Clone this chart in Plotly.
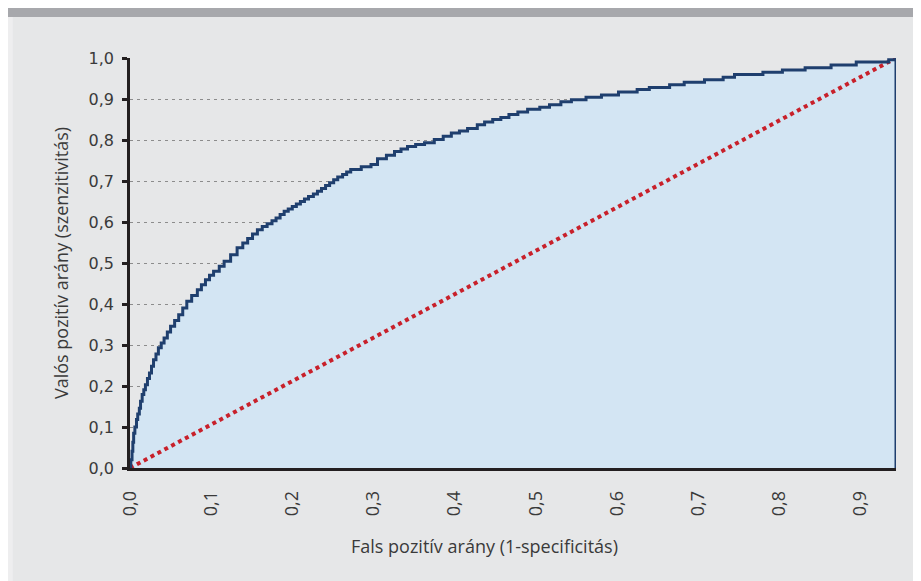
#!/usr/bin/env python3
"""ROC curve: valós pozitív arány vs fals pozitív arány."""

import plotly.graph_objects as go

# ROC curve (step points)
FPR = [0, 0.001, 0.0025, 0.0035, 0.0045, 0.006, 0.008, 0.0095, 0.0115, 0.013,
       0.015, 0.017, 0.019, 0.0215, 0.024, 0.0265, 0.029, 0.032, 0.035, 0.0385,
       0.042, 0.046, 0.05, 0.055, 0.06, 0.065, 0.07, 0.076, 0.083, 0.088,
       0.093, 0.098, 0.103, 0.11, 0.116, 0.124, 0.132, 0.139, 0.145, 0.151,
       0.157, 0.163, 0.169, 0.175, 0.18, 0.185, 0.19, 0.195, 0.2, 0.205,
       0.21, 0.215, 0.22, 0.226, 0.231, 0.236, 0.241, 0.246, 0.251, 0.256,
       0.262, 0.267, 0.272, 0.285, 0.297, 0.305, 0.316, 0.326, 0.334, 0.342,
       0.352, 0.363, 0.375, 0.386, 0.396, 0.406, 0.416, 0.428, 0.437, 0.447,
       0.457, 0.467, 0.478, 0.49, 0.505, 0.517, 0.531, 0.544, 0.562, 0.581,
       0.602, 0.625, 0.64, 0.665, 0.683, 0.708, 0.731, 0.745, 0.78, 0.804,
       0.832, 0.864, 0.895, 0.935, 0.944, 0.944]
TPR = [0, 0.02, 0.041, 0.063, 0.085, 0.1, 0.118, 0.132, 0.146, 0.163,
       0.179, 0.191, 0.203, 0.218, 0.232, 0.248, 0.264, 0.278, 0.293, 0.305,
       0.317, 0.332, 0.346, 0.36, 0.374, 0.39, 0.407, 0.421, 0.435, 0.447,
       0.459, 0.47, 0.48, 0.492, 0.504, 0.52, 0.537, 0.549, 0.56, 0.571,
       0.581, 0.589, 0.596, 0.603, 0.61, 0.618, 0.626, 0.632, 0.638, 0.644,
       0.65, 0.656, 0.662, 0.668, 0.675, 0.682, 0.689, 0.696, 0.703, 0.71,
       0.716, 0.722, 0.728, 0.735, 0.74, 0.754, 0.763, 0.772, 0.778, 0.784,
       0.789, 0.793, 0.801, 0.809, 0.817, 0.822, 0.828, 0.837, 0.844, 0.85,
       0.855, 0.862, 0.868, 0.875, 0.88, 0.886, 0.893, 0.898, 0.904, 0.91,
       0.917, 0.923, 0.928, 0.935, 0.941, 0.947, 0.953, 0.96, 0.965, 0.971,
       0.976, 0.983, 0.99, 0.996, 1.0, 0]

# reference diagonal (random classifier)
DIAG_X = [0, 0.944]
DIAG_Y = [0, 1.0]

X_MAX = 0.944
X_TITLE = "Fals pozitív arány (1-specificitás)"
Y_TITLE = "Valós pozitív arány (szenzitivitás)"

BG = "#e6e7e8"
NAVY = "#1f3f6e"
FILL = "#d3e5f3"
RED = "#c8202a"
AXIS = "#231f20"
TEXT = "#3a3a3a"

fig = go.Figure()
fig.add_trace(go.Scatter(
    x=FPR, y=TPR, mode="none", fill="tozeroy", fillcolor=FILL,
    line={"shape": "hv"}, hoverinfo="skip", showlegend=False,
))
fig.add_trace(go.Scatter(
    x=DIAG_X, y=DIAG_Y, mode="lines",
    line={"color": RED, "width": 4, "dash": "4px,3.8px"},
    hoverinfo="skip", showlegend=False,
))
fig.add_trace(go.Scatter(
    x=FPR, y=TPR, mode="lines",
    line={"color": NAVY, "width": 3, "shape": "hv"},
    showlegend=False,
))

fig.update_layout(
    width=921, height=581,
    paper_bgcolor=BG, plot_bgcolor=BG,
    margin={"l": 122, "r": 33, "t": 50, "b": 121},
    separators=", ",
    showlegend=False,
    shapes=[
        {"type": "rect", "xref": "paper", "yref": "paper",
         "x0": -0.2, "x1": 1.1, "y0": 1.1, "y1": 1.2,
         "fillcolor": "#a7a8ac", "line": {"width": 0}, "layer": "below"},
        {"type": "rect", "xref": "paper", "yref": "paper",
         "x0": -0.2, "x1": -0.153, "y0": -0.3, "y1": 1.1,
         "fillcolor": "#eeeeef", "line": {"width": 0}, "layer": "below"},
    ],
    annotations=[
        {"text": X_TITLE, "xref": "paper", "yref": "paper",
         "x": 0.463, "y": -0.19, "showarrow": False,
         "xanchor": "center", "yanchor": "middle",
         "font": {"family": "Open Sans", "size": 18, "color": TEXT}},
        {"text": Y_TITLE, "xref": "paper", "yref": "paper",
         "x": -0.09, "y": 0.5, "textangle": -90, "showarrow": False,
         "xanchor": "center", "yanchor": "middle",
         "font": {"family": "Open Sans", "size": 18, "color": TEXT}},
    ],
)
fig.update_xaxes(
    range=[0, X_MAX], tick0=0, dtick=0.1, tickformat=".1f",
    tickangle=-90, ticks="", ticklabelstandoff=13,
    showgrid=False, zeroline=False,
    showline=True, linecolor=AXIS, linewidth=2.5,
    tickfont={"family": "Open Sans", "size": 18, "color": TEXT},
)
fig.update_yaxes(
    range=[0, 1.0], tick0=0, dtick=0.1, tickformat=".1f",
    ticks="outside", ticklen=5, tickwidth=2.5, tickcolor=AXIS,
    ticklabelstandoff=5,
    showgrid=True, gridcolor="#8c8c8c", gridwidth=1, griddash="3px,4px",
    zeroline=False, showline=True, linecolor=AXIS, linewidth=2.5,
    tickfont={"family": "DejaVu Sans", "size": 16, "color": TEXT},
)

fig.write_html("out.html")
